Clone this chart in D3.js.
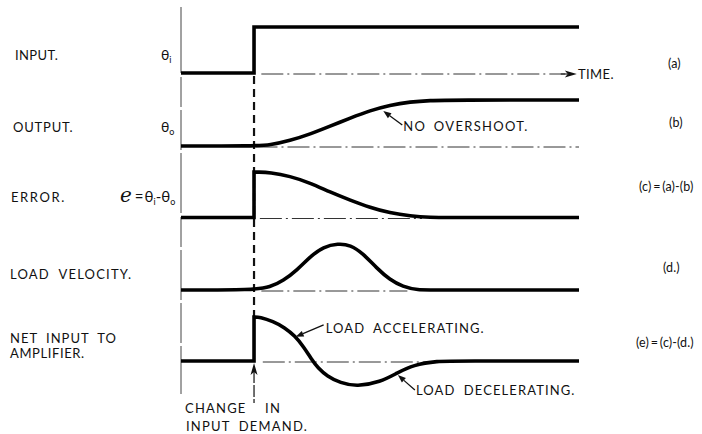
<!DOCTYPE html>
<html>
<head>
<meta charset="utf-8">
<script src="https://cdn.jsdelivr.net/npm/d3@7"></script>
<style>
  body { margin: 0; background: #fff; }
  text { font-family: Lato, "DejaVu Sans", sans-serif; fill: #111; }
</style>
</head>
<body>
<svg id="chart" width="702" height="434"></svg>
<script>
const w = 702, h = 434;
const tEnd = 4.45;

// (a) input step
const inputT = [-1, 0, 0, tEnd];
const inputV = [0, 0, 1, 1];
// (b) output, no overshoot
const outputT = [-1, 0, 0.22, 0.49, 0.77, 1.04, 1.32, 1.59, 1.86, 2.14, 2.41, 2.7, tEnd];
const outputV = [0, 0, 0.02, 0.115, 0.26, 0.43, 0.61, 0.77, 0.89, 0.96, 0.99, 1, 1];
// (c) error
const errorT = [-1, 0, 0, 0.05, 0.22, 0.49, 0.77, 1.04, 1.32, 1.59, 1.86, 2.14, 2.41, 2.7, tEnd];
const errorV = [0, 0, 1, 1, 0.99, 0.91, 0.76, 0.56, 0.38, 0.22, 0.1, 0.03, 0, 0, 0];
// (d) load velocity
const velT = [-1, 0, 0.22, 0.4, 0.59, 0.77, 0.95, 1.15, 1.32, 1.49, 1.68, 1.86, 2.04, 2.23, 2.5, tEnd];
const velV = [0, 0, 0.06, 0.2, 0.43, 0.72, 0.93, 1, 0.97, 0.79, 0.47, 0.22, 0.07, 0, 0, 0];
// (e) net input to amplifier
const netT = [-1, 0, 0, 0.08, 0.26, 0.42, 0.56, 0.68, 0.78, 0.88, 1.0, 1.18, 1.41, 1.73, 1.96, 2.18, 2.51, 2.8, tEnd];
const netV = [0, 0, 1, 1, 0.9, 0.76, 0.57, 0.32, 0.06, -0.17, -0.34, -0.5, -0.58, -0.48, -0.27, -0.09, 0, 0, 0];

const labels = ["INPUT.", "OUTPUT.", "ERROR.", "LOAD  VELOCITY."];
const refs = ["(a)", "(b)", "(c) = (a)-(b)", "(d.)", "(e) = (c)-(d.)"];

const svg = d3.select("#chart");

const x = d3.scaleLinear().domain([-1, tEnd]).range([181, 579]);

// panel baseline / unit height in px
const panels = [
  {t: inputT, v: inputV, base: 73, unit: 46, jump: true, ref: [0.1, 4.26]},
  {t: outputT, v: outputV, base: 146, unit: 46, jump: false, ref: [0.02, tEnd]},
  {t: errorT, v: errorV, base: 217.5, unit: 45.5, jump: true, ref: [0.08, 2.3]},
  {t: velT, v: velV, base: 290, unit: 46.5, jump: false, ref: [0.1, 2.1]},
  {t: netT, v: netV, base: 361, unit: 44, jump: true, ref: [0.12, 2.55]}
];
panels.forEach(p => {
  p.y = d3.scaleLinear().domain([0, 1]).range([p.base, p.base - p.unit]);
});

// vertical time axis (thin)
svg.append("line")
  .attr("x1", x(-1)).attr("x2", x(-1))
  .attr("y1", 7).attr("y2", 394)
  .attr("stroke", "#444").attr("stroke-width", 1)
  .attr("stroke-dasharray", "66,4,30,3,40,3,60,4,30,3,50,3,40,3,60");

// reference dash-dot lines
panels.forEach((p, i) => {
  svg.append("line")
    .attr("x1", x(p.ref[0])).attr("x2", x(p.ref[1]))
    .attr("y1", p.y(0) + 1).attr("y2", p.y(0) + 1)
    .attr("stroke", "#333").attr("stroke-width", 1)
    .attr("stroke-dasharray", "22,4,2,4");
});

// time arrow on (a)
const tArrow = 4.42;
svg.append("path")
  .attr("d", `M${x(tArrow)},${panels[0].y(0) + 1} l-12,-3.5 l3,3.5 l-3,3.5 z`)
  .attr("fill", "#111");
svg.append("line")
  .attr("x1", x(4.2)).attr("x2", x(tArrow) - 8)
  .attr("y1", panels[0].y(0) + 1).attr("y2", panels[0].y(0) + 1)
  .attr("stroke", "#222").attr("stroke-width", 1.2);

// dashed line at the instant of change
svg.append("line")
  .attr("x1", x(0)).attr("x2", x(0))
  .attr("y1", panels[0].y(0) + 3).attr("y2", panels[4].y(1))
  .attr("stroke", "#111").attr("stroke-width", 2.2)
  .attr("stroke-dasharray", "8,5");
svg.append("line")
  .attr("x1", x(0)).attr("x2", x(0))
  .attr("y1", panels[4].y(0) + 10).attr("y2", 403)
  .attr("stroke", "#111").attr("stroke-width", 1.2)
  .attr("stroke-dasharray", "12,2");
svg.append("path")
  .attr("d", `M${x(0)},${panels[4].y(0) + 2} l-3.5,12 l3.5,-3 l3.5,3 z`)
  .attr("fill", "#111");

// the traces
const lineLin = d3.line().x(d => x(d[0])).y(d => d[1]);
const lineSmooth = d3.line().x(d => x(d[0])).y(d => d[1]).curve(d3.curveBasis);

panels.forEach((p, i) => {
  const pts = p.t.map((t, k) => [t, p.y(p.v[k])]);
  let d;
  if (i === 0) {
    d = lineLin(pts);
  } else if (p.jump) {
    d = lineLin(pts.slice(0, 3)) + lineSmooth(pts.slice(2)).replace(/^M/, "L");
  } else {
    d = lineSmooth(pts);
  }
  svg.append("path")
    .attr("d", d)
    .attr("fill", "none")
    .attr("stroke", "#000")
    .attr("stroke-width", 3.6)
    .attr("stroke-linejoin", "miter");
});

// left labels
const labelY = [60, 132, 202, 279];
const labelX = [15, 13, 11, 10];
const labelLs = [0.4, 0.8, 1.6, 1.2];
labels.forEach((s, i) => {
  svg.append("text").attr("x", labelX[i]).attr("y", labelY[i])
    .attr("font-size", 13).attr("letter-spacing", labelLs[i])
    .style("white-space", "pre").text(s);
});
svg.append("text").attr("x", 10).attr("y", 343)
  .attr("font-size", 13).attr("letter-spacing", 1).attr("word-spacing", 4)
  .text("NET INPUT TO");
svg.append("text").attr("x", 10).attr("y", 358)
  .attr("font-size", 13).attr("letter-spacing", 0.6).text("AMPLIFIER.");

// symbols
function theta(xp, yp, sub) {
  const t = svg.append("text").attr("x", xp).attr("y", yp).attr("font-size", 14);
  t.append("tspan").text("θ");
  t.append("tspan").attr("font-size", 9).attr("dy", 3).text(sub);
  return t;
}
theta(161, 60, "i");
theta(161, 132, "o");
const e = svg.append("text").attr("x", 120).attr("y", 202).attr("font-size", 15);
e.append("tspan").attr("font-family", "DejaVu Serif").attr("font-style", "italic").attr("font-size", 20).text("e");
e.append("tspan").attr("dx", 3).text("=");
e.append("tspan").attr("dx", 1).text("θ");
e.append("tspan").attr("font-size", 9).attr("dy", 3).text("i");
e.append("tspan").attr("dy", -3).text("-θ");
e.append("tspan").attr("font-size", 9).attr("dy", 3).text("o");

// right references
const refX = [668, 669, 639, 663, 636];
const refY = [68, 127, 191, 272, 347];
refs.forEach((s, i) => {
  svg.append("text").attr("x", refX[i]).attr("y", refY[i])
    .attr("font-size", 12.5).attr("letter-spacing", 0.1).attr("word-spacing", -1.5).text(s);
});

svg.append("text").attr("x", 578).attr("y", 79)
  .attr("font-size", 13).attr("letter-spacing", 0.4).text("TIME.");

// annotations with arrows: tip in panel data units, tail & text in px offsets
const notes = [
  {text: "NO OVERSHOOT.", panel: 1, t: 1.77, v: 0.76, tail: [19, 14], tx: 20, ty: 20, ls: 1.3, ws: 3},
  {text: "LOAD ACCELERATING.", panel: 4, t: 0.57, v: 0.55, tail: [28, -12], tx: 30, ty: -4, ls: 1.1, ws: 4},
  {text: "LOAD DECELERATING.", panel: 4, t: 1.97, v: -0.32, tail: [17, 15], tx: 18, ty: 20, ls: 1.1, ws: 4}
];
notes.forEach(n => {
  const p = panels[n.panel];
  const x0 = x(n.t), y0 = p.y(n.v);
  const x1 = x0 + n.tail[0], y1 = y0 + n.tail[1];
  const ang = Math.atan2(y1 - y0, x1 - x0);
  const L = 8, W = 3;
  const bx = x0 + L * Math.cos(ang), by = y0 + L * Math.sin(ang);
  svg.append("line").attr("x1", bx).attr("y1", by).attr("x2", x1).attr("y2", y1)
    .attr("stroke", "#111").attr("stroke-width", 1.3);
  svg.append("path")
    .attr("d", `M${x0},${y0} L${bx - W * Math.sin(ang)},${by + W * Math.cos(ang)} L${bx + W * Math.sin(ang)},${by - W * Math.cos(ang)} Z`)
    .attr("fill", "#111");
  svg.append("text").attr("x", x0 + n.tx).attr("y", y0 + n.ty)
    .attr("font-size", 13).attr("letter-spacing", n.ls).attr("word-spacing", n.ws).text(n.text);
});

// bottom caption
svg.append("text").attr("x", 185).attr("y", 413)
  .attr("font-size", 13).attr("letter-spacing", 1.2).attr("word-spacing", 14).text("CHANGE IN");
svg.append("text").attr("x", 186).attr("y", 431)
  .attr("font-size", 13).attr("letter-spacing", 1.2).attr("word-spacing", 4).text("INPUT DEMAND.");
</script>
</body>
</html>
